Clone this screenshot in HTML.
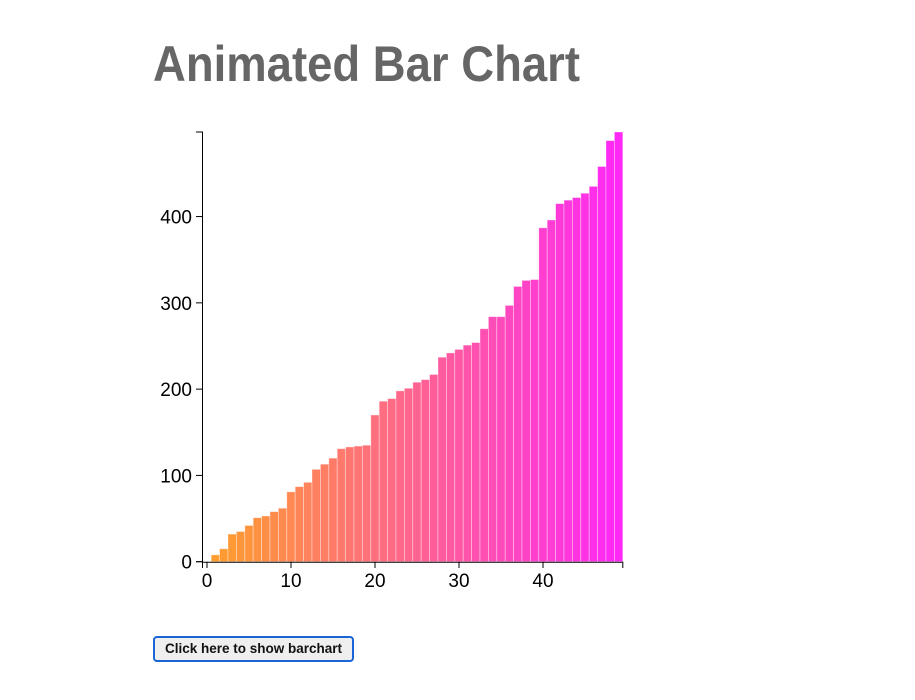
<!DOCTYPE html>
<html><head><meta charset="utf-8"><style>
html,body{margin:0;padding:0;background:#fff;width:915px;height:700px;overflow:hidden}
svg{position:absolute;left:0;top:0}
#btn{position:absolute;left:153px;top:636px;width:201px;height:26px;box-sizing:border-box;border:2px solid #1a66d6;border-radius:4px;background:#efefef;font:bold 13.5px "Liberation Sans",sans-serif;color:#111;padding:0;text-align:center;line-height:22px}
</style></head><body>
<svg id="chart" width="915" height="700" xmlns="http://www.w3.org/2000/svg">
<text x="153" y="81" font-family="Liberation Sans, sans-serif" font-size="50" font-weight="bold" fill="#666" textLength="427" lengthAdjust="spacingAndGlyphs">Animated Bar Chart</text>
<g id="bars"></g>
<g id="axes"></g>
</svg>
<button id="btn">Click here to show barchart</button>
<script>
const values = [0,8,15,32,35,42,51,53,58,62,81,87,92,107,113,120,131,133,134,135,170,186,189,198,201,208,211,217,237,242,246,251,254,270,284,284,297,319,326,327,387,396,415,419,422,427,435,458,488,498];
const xTicks = [0,10,20,30,40];
const yTicks = [0,100,200,300,400];
const NS="http://www.w3.org/2000/svg";
const x0=202.8,x1=622.8,y0=561.7,yTop=132;
const yMax=Math.max(...values);
const xs=v=>x0+(v+0.5)*(x1-x0)/values.length;
const ys=v=>y0-v*(y0-yTop)/yMax;
const bw=(x1-x0)/values.length;
const bars=document.getElementById('bars'),axes=document.getElementById('axes');
function mk(t,a,p){const e=document.createElementNS(NS,t);for(const k in a)e.setAttribute(k,a[k]);p.appendChild(e);return e;}
values.forEach((v,i)=>{
  const t=i/(values.length-1);
  const c=`rgb(255,${Math.round(160-120*t)},${Math.round(42+203*t)})`;
  const r=mk('rect',{x:xs(i)-bw/2,y:ys(v),width:bw,height:y0-ys(v),fill:c,stroke:'rgba(255,255,255,0.45)','stroke-width':0.8},bars);
  
  
});
const ya=mk('path',{d:`M196,${yTop}H202.5V${y0}H196`,stroke:'#000',fill:'none','stroke-width':1},axes);


yTicks.forEach(v=>{
  mk('line',{x1:196,x2:202.5,y1:ys(v),y2:ys(v),stroke:'#000'},axes);
  const t=mk('text',{x:192,y:ys(v)+7,'text-anchor':'end','font-family':'Liberation Sans, sans-serif','font-size':19,fill:'#000'},axes);
  t.textContent=v;
  
  
});
const xa=mk('path',{d:`M202.5,568V${y0+0.5}H${x1}V568`,stroke:'#000',fill:'none','stroke-width':1},axes);


xTicks.forEach(v=>{
  mk('line',{x1:xs(v)-bw/2+4.2,x2:xs(v)-bw/2+4.2,y1:y0,y2:568,stroke:'#000'},axes);
  const t=mk('text',{x:xs(v)-bw/2+4.2,y:587,'text-anchor':'middle','font-family':'Liberation Sans, sans-serif','font-size':19,fill:'#000'},axes);
  t.textContent=v;
  
  
});
</script>
</body></html>
